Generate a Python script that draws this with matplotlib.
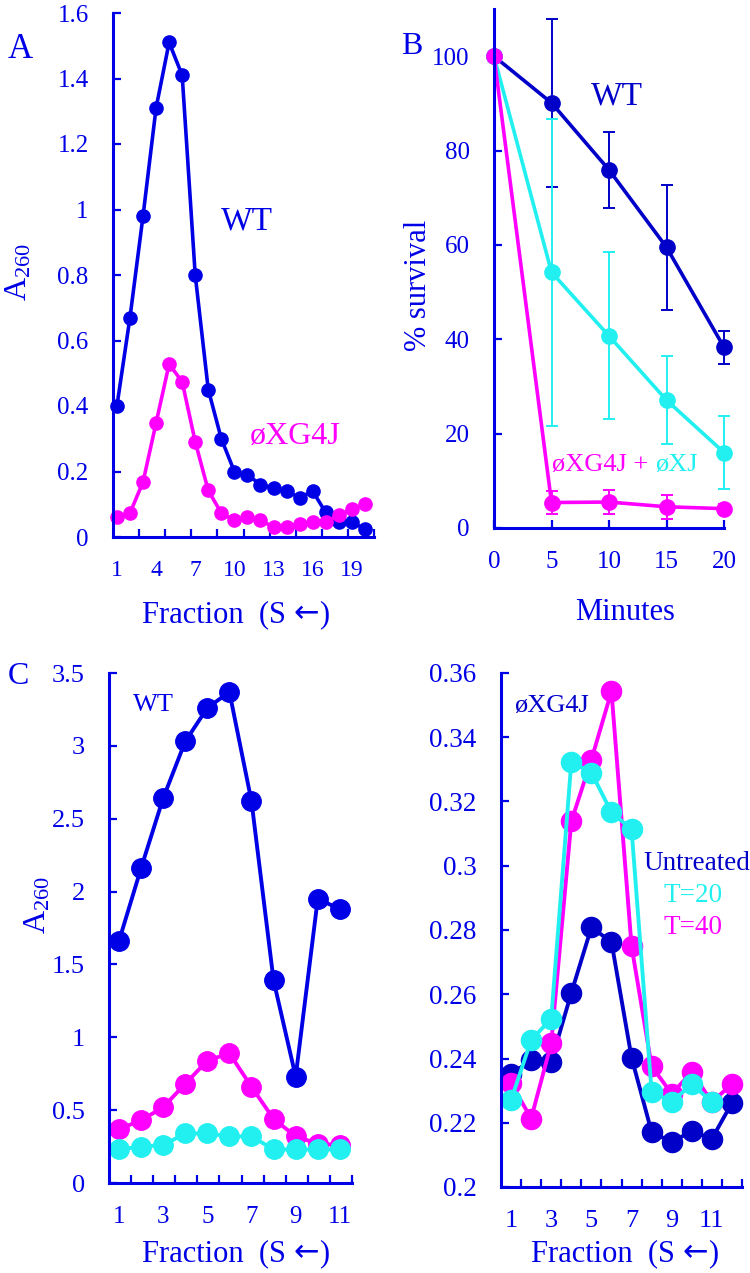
import numpy as np
import matplotlib
matplotlib.use("Agg")
import matplotlib.pyplot as plt

plt.rcParams["font.family"] = ["Liberation Serif", "DejaVu Serif"]
plt.rcParams["mathtext.fontset"] = "custom"
plt.rcParams["mathtext.rm"] = "Liberation Serif"
plt.rcParams["mathtext.default"] = "rm"

BLUE = "#0000e6"
NAVY = "#0000c8"
MAGENTA = "#ff00ff"
CYAN = "#22f0f0"

# Panel A: sucrose gradient, A260 per fraction
frac_a = list(range(1, 21))
a_wt = [0.40, 0.67, 0.98, 1.31, 1.51, 1.41, 0.80, 0.45, 0.30, 0.20,
        0.19, 0.16, 0.15, 0.14, 0.12, 0.14, 0.075, 0.045, 0.045, 0.025]
a_g4j = [0.061, 0.073, 0.168, 0.348, 0.528, 0.474, 0.291, 0.142, 0.073, 0.051,
         0.061, 0.051, 0.030, 0.030, 0.039, 0.046, 0.046, 0.066, 0.086, 0.100]
a_xticks = [1, 4, 7, 10, 13, 16, 19]

# Panel B: survival over time
minutes = [0, 5, 10, 15, 20]
b_wt = [100, 90.1, 75.9, 59.5, 38.3]
b_wt_err = [0, 17.8, 8.0, 13.2, 3.5]
b_xj = [100, 54.2, 40.7, 27.1, 16.0]
b_xj_err = [0, 32.5, 17.7, 9.4, 7.8]
b_g4j = [100, 5.4, 5.5, 4.5, 4.1]
b_g4j_err = [0, 2.5, 2.5, 2.5, 1.0]

# Panel C left: WT
frac_c = list(range(1, 12))
c_untreated = [1.66, 2.16, 2.64, 3.03, 3.26, 3.37, 2.62, 1.39, 0.73, 1.95, 1.88]
c_t40 = [0.37, 0.43, 0.52, 0.68, 0.84, 0.89, 0.66, 0.44, 0.32, 0.27, 0.26]
c_t20 = [0.23, 0.25, 0.26, 0.34, 0.34, 0.32, 0.32, 0.23, 0.23, 0.23, 0.23]

# Panel C right: phiXG4J
frac_d = list(range(1, 13))
d_untreated = [0.2351, 0.2395, 0.2390, 0.2604, 0.2808, 0.2763, 0.2403, 0.2171,
               0.2140, 0.2174, 0.2150, 0.2262]
d_t20 = [0.2270, 0.2457, 0.2524, 0.3322, 0.3290, 0.3166, 0.3114, 0.2296,
         0.2265, 0.2320, 0.2265]
d_t40 = [0.2324, 0.2213, 0.2447, 0.3138, 0.3330, 0.3543, 0.2750, 0.2376,
         0.2290, 0.2358, 0.2265, 0.2320]

W, H = 750, 1273
fig = plt.figure(figsize=(W / 100, H / 100), dpi=100)
renderer = fig.canvas.get_renderer()


def axes_px(left, top, right, bottom):
    return fig.add_axes([left / W, 1 - bottom / H, (right - left) / W, (bottom - top) / H])


def ftext(x, y, s, **kw):
    kw.setdefault("ha", "center")
    kw.setdefault("va", "center")
    return fig.text(x / W, 1 - y / H, s, **kw)


def fraction_label(xc, y):
    # "Fraction  (S <-)" with a larger arrow taken from DejaVu Sans
    parts = [("Fraction  (S ", ["Liberation Serif"]), ("\u2190", ["DejaVu Sans"]),
             (")", ["Liberation Serif"])]
    texts = [ftext(0, y, s, family=fam, fontsize=22, color=BLUE, ha="left",
                   va="baseline") for s, fam in parts]
    widths = [t.get_window_extent(renderer).width for t in texts]
    x = xc - sum(widths) / 2
    for t, w in zip(texts, widths):
        t.set_x(x / W)
        x += w


def style(ax, ysize=18, xsize=17):
    for side in ["top", "right"]:
        ax.spines[side].set_visible(False)
    for side in ["left", "bottom"]:
        ax.spines[side].set_color(BLUE)
        ax.spines[side].set_linewidth(2.2)
    ax.tick_params(which="both", direction="in", color=BLUE, width=1.6, length=6)
    ax.tick_params(axis="y", labelsize=ysize, labelcolor=BLUE, pad=17.5)
    ax.tick_params(axis="x", which="major", length=0, labelsize=xsize,
                   labelcolor=BLUE, pad=16.5)
    ax.set_facecolor("none")


# ---- A ----
ax = axes_px(113, 13, 374, 537)
ax.plot(frac_a, a_wt, color=BLUE, lw=2.6, marker="o", ms=9.5, clip_on=False)
ax.plot(frac_a, a_g4j, color=MAGENTA, lw=2.6, marker="o", ms=9.5, clip_on=False)
ax.set_xlim(0.7, 20.7)
ax.set_ylim(0, 1.6)
ax.set_yticks([0, 0.2, 0.4, 0.6, 0.8, 1, 1.2, 1.4, 1.6])
ax.set_yticklabels(["0", "0.2", "0.4", "0.6", "0.8", "1", "1.2", "1.4", "1.6"])
ax.set_xticks(a_xticks)
ax.set_xticks(np.arange(2.7, 20.8, 2), minor=True)
style(ax)
ftext(247, 221, "WT", color=BLUE, fontsize=24)
ftext(295, 436, "øXG4J", color=MAGENTA, fontsize=23)
ftext(20, 49, "A", color=BLUE, fontsize=25)
ftext(19, 272, "A$_{260}$", color=BLUE, fontsize=23, rotation=90)
fraction_label(236, 622)

# ---- B ----
ax = axes_px(494, 9, 724, 528)
ax.errorbar(minutes, b_wt, yerr=b_wt_err, fmt="none", ecolor=NAVY, elinewidth=1.4,
            capsize=4, capthick=1.4, clip_on=False)
ax.plot(minutes, b_wt, color=NAVY, lw=2.6, marker="o", ms=11, clip_on=False)
ax.errorbar(minutes, b_xj, yerr=b_xj_err, fmt="none", ecolor=CYAN, elinewidth=1.4,
            capsize=4, capthick=1.4, clip_on=False)
ax.plot(minutes, b_xj, color=CYAN, lw=2.6, marker="o", ms=11, clip_on=False)
ax.errorbar(minutes, b_g4j, yerr=b_g4j_err, fmt="none", ecolor=MAGENTA,
            elinewidth=1.4, capsize=4, capthick=1.4, clip_on=False)
ax.plot(minutes, b_g4j, color=MAGENTA, lw=2.6, marker="o", ms=11, clip_on=False)
ax.set_xlim(0, 20)
ax.set_ylim(0, 110)
ax.set_yticks([0, 20, 40, 60, 80, 100])
ax.set_xticks(minutes)
style(ax, ysize=18, xsize=18)
ax.tick_params(axis="x", which="major", length=6)
ftext(617, 96, "WT", color=NAVY, fontsize=24)
t1 = ftext(552, 465, "øXG4J +", color=MAGENTA, fontsize=19, ha="left")
ax.annotate("øXJ", xy=(1, 0.5), xycoords=t1, xytext=(5, 0), textcoords="offset points",
            ha="left", va="center", color=CYAN, fontsize=19)
ftext(412, 46, "B", color=BLUE, fontsize=23)
ftext(418, 285, "% survival", color=BLUE, fontsize=22, rotation=90)
ftext(625, 613, "Minutes", color=BLUE, fontsize=22)

# ---- C left ----
ax = axes_px(109, 673, 352, 1183)
ax.plot(frac_c, c_untreated, color=BLUE, lw=2.8, marker="o", ms=14, clip_on=False)
ax.plot(frac_c, c_t40, color=MAGENTA, lw=2.8, marker="o", ms=14, clip_on=False)
ax.plot(frac_c, c_t20, color=CYAN, lw=2.8, marker="o", ms=14, clip_on=False)
ax.set_xlim(0.55, 11.55)
ax.set_ylim(0, 3.5)
ax.set_yticks([0, 0.5, 1, 1.5, 2, 2.5, 3, 3.5])
ax.set_yticklabels(["0", "0.5", "1", "1.5", "2", "2.5", "3", "3.5"])
ax.set_xticks([1, 3, 5, 7, 9, 11])
ax.set_xticks(np.arange(1.55, 11.6, 1), minor=True)
style(ax, ysize=19, xsize=18)
ftext(153, 705, "WT", color=BLUE, fontsize=19)
ftext(18, 676, "C", color=BLUE, fontsize=23)
ftext(38, 905, "A$_{260}$", color=BLUE, fontsize=23, rotation=90)
fraction_label(236, 1261)

# ---- C right ----
ax = axes_px(501, 673, 742, 1187)
ax.plot(frac_d, d_untreated, color=NAVY, lw=2.8, marker="o", ms=14.5, clip_on=False)
ax.plot(frac_d, d_t40, color=MAGENTA, lw=2.8, marker="o", ms=14.5, clip_on=False)
ax.plot(frac_d[:len(d_t20)], d_t20, color=CYAN, lw=2.8, marker="o", ms=14.5,
        clip_on=False)
ax.set_xlim(0.5, 12.5)
ax.set_ylim(0.2, 0.36)
ax.set_yticks([0.2, 0.22, 0.24, 0.26, 0.28, 0.3, 0.32, 0.34, 0.36])
ax.set_yticklabels(["0.2", "0.22", "0.24", "0.26", "0.28", "0.3", "0.32", "0.34", "0.36"])
ax.set_xticks([1, 3, 5, 7, 9, 11])
ax.set_xticks(np.arange(1.5, 12.6, 1), minor=True)
style(ax, ysize=19.5, xsize=19)
ftext(551, 706, "øXG4J", color=NAVY, fontsize=19)
ftext(697, 863, "Untreated", color=NAVY, fontsize=19.5)
ftext(693, 895, "T=20", color=CYAN, fontsize=19.5)
ftext(693, 928, "T=40", color=MAGENTA, fontsize=19.5)
fraction_label(625, 1261)

fig.savefig("out.png", dpi=100)
